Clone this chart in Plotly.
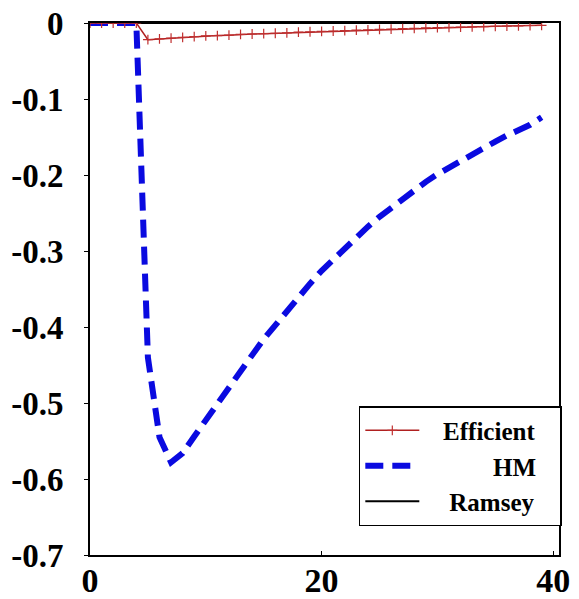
import plotly.graph_objects as go

# Horizon (periods)
t = list(range(0, 40))

efficient = [0.0, 0.0, 0.0, 0.0, 0.0, -0.022, -0.021, -0.020, -0.019, -0.018,
             -0.017, -0.0165, -0.016, -0.015, -0.0145, -0.014, -0.0135, -0.013, -0.012, -0.0115,
             -0.011, -0.0105, -0.010, -0.0095, -0.009, -0.0085, -0.008, -0.0075, -0.007, -0.0065,
             -0.006, -0.0057, -0.0053, -0.005, -0.0047, -0.0043, -0.004, -0.0037, -0.0033, -0.003]

hm = [0.0, 0.0, 0.0, 0.0, 0.0, -0.44, -0.545, -0.578, -0.566, -0.544,
      -0.522, -0.500, -0.478, -0.457, -0.437, -0.416, -0.397, -0.378, -0.360, -0.343,
      -0.326, -0.311, -0.296, -0.282, -0.268, -0.255, -0.243, -0.231, -0.220, -0.209,
      -0.199, -0.190, -0.181, -0.172, -0.164, -0.156, -0.148, -0.141, -0.134, -0.124]

ramsey = [0.0] * 40

y_ticks = [0, -0.1, -0.2, -0.3, -0.4, -0.5, -0.6, -0.7]
y_tick_text = ["0", "-0.1", "-0.2", "-0.3", "-0.4", "-0.5", "-0.6", "-0.7"]
x_ticks = [0, 20, 40]

SERIF = "Liberation Serif, Times New Roman, serif"
NB = "&#160;"

fig = go.Figure()
fig.add_trace(go.Scatter(x=t, y=ramsey, mode="lines", name=NB * 4 + "Ramsey" + NB * 3,
                         line=dict(color="black", width=2), legendrank=3))
fig.add_trace(go.Scatter(x=t, y=hm, mode="lines",
                         name=NB * 11 + "HM" + NB * 3,
                         line=dict(color="#0a0ae0", width=6, dash="18px,9px"), legendrank=2))
fig.add_trace(go.Scatter(x=t, y=efficient, mode="lines+markers", name=NB * 3 + "Efficient" + NB * 3,
                         line=dict(color="#b02020", width=1.5),
                         marker=dict(symbol="cross-thin", size=7,
                                     line=dict(color="#c03030", width=1.2)),
                         legendrank=1))

fig.update_layout(
    width=579, height=599,
    margin=dict(l=90, r=20, t=23, b=44),
    paper_bgcolor="white", plot_bgcolor="white",
    showlegend=True,
    legend=dict(
        x=1.006, xanchor="right", y=0.280, yanchor="top",
        bgcolor="white", bordercolor="black", borderwidth=1.5,
        font=dict(family=SERIF, size=25, color="black", weight="bold"),
        tracegroupgap=0, itemwidth=54,
    ),
    xaxis=dict(
        range=[0, 40.5], tickmode="array", tickvals=x_ticks,
        showline=True, linecolor="black", linewidth=2, mirror=True,
        ticks="inside", ticklen=4, tickcolor="black",
        showgrid=False, zeroline=False, automargin=False,
        tickfont=dict(family=SERIF, size=34, color="black", weight="bold"),
        ticklabelstandoff=-6,
    ),
    yaxis=dict(
        range=[-0.7, 0], tickmode="array", tickvals=y_ticks, ticktext=y_tick_text,
        showline=True, linecolor="black", linewidth=2, mirror=True,
        ticks="outside", ticklen=4, tickcolor="black",
        showgrid=False, zeroline=False, automargin=False,
        tickfont=dict(family=SERIF, size=33, color="black", weight="bold"),
        ticklabelstandoff=14,
    ),
)

fig.write_html("out.html")
